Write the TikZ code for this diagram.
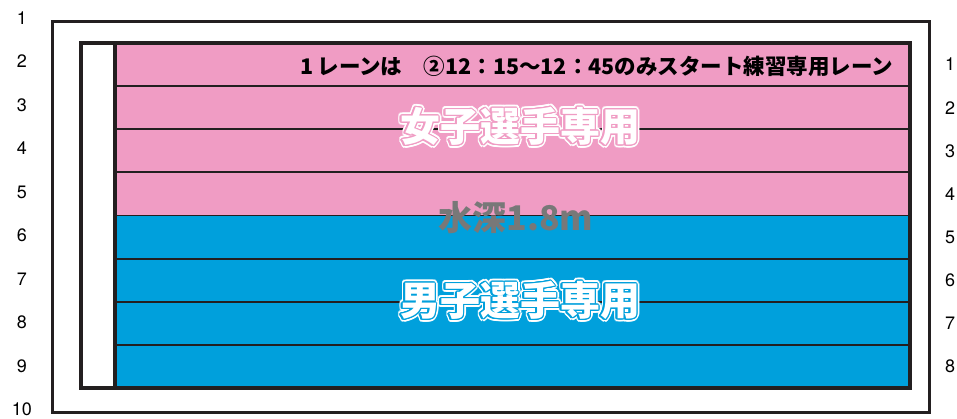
\documentclass[tikz,border=0pt]{standalone}
\usepackage{fontspec}
\newfontfamily\cjk{Noto Sans CJK JP}
\newfontfamily\numfont{TeX Gyre Heros}
\usepackage{contour}
\usetikzlibrary{positioning}

\definecolor{girlpink}{RGB}{240,156,196}
\definecolor{boyblue}{RGB}{0,160,220}
\definecolor{depthgray}{RGB}{120,120,120}
\definecolor{poolline}{RGB}{35,31,32}

% white title with a thin gap and a white rim
\newcommand{\lanetitle}[2]{%
  \rlap{\contourlength{3pt}\contour{white}{\textcolor{#1}{#2}}}%
  \contourlength{1.3pt}\contour{#1}{\textcolor{white}{#2}}}

\begin{document}
\begin{tikzpicture}[x=1pt,y=-1pt,
  lane/.style={draw=poolline,line width=1.8pt,minimum width=795pt,
    minimum height=43.125pt,inner sep=0pt,outer sep=0pt,anchor=north west},
  frame line/.style={draw=poolline,line width=3pt},
  num label/.style={font=\numfont\fontsize{18}{18}\selectfont},
  title label/.style={font=\cjk\bfseries\fontsize{40}{40}\selectfont},
  note label/.style={font=\cjk\bfseries\fontsize{21.5}{21.5}\selectfont}]
  \useasboundingbox (0,0) rectangle (957,419);

  % outer frame
  \draw[frame line] (52,22) rectangle (929,412);

  % lanes
  \foreach \i in {1,...,8} {
    \ifnum\i<5 \def\lanecol{girlpink}\else\def\lanecol{boyblue}\fi
    \node[lane,fill=\lanecol] (lane\i) at (115,{43+(\i-1)*43.125}) {};
    \node[num label,right=40pt of lane\i.east,anchor=center] (rnum\i) {\i};
  }

  % pool edge and start strip
  \draw[frame line,line width=3.2pt] (81,43) rectangle (910,388);
  \draw[frame line,line width=3.2pt] (115,43) -- (115,388);

  % grid numbers on the left
  \foreach \j in {1,...,10}
    \node[num label] (lnum\j) at (22,{18+(\j-1)*43.5}) {\j};

  % texts
  \node[note label] (note) at (597,66) {1\,レーンは　②12：15～12：45のみスタート練習専用レーン};
  \node[title label] (girls) at (520,128) {\lanetitle{girlpink}{女子選手専用}};
  \node[font=\cjk\bfseries\fontsize{34}{34}\selectfont,text=depthgray] (depth) at (516,218) {水深1.8m};
  \node[title label] (boys) at (520,302) {\lanetitle{boyblue}{男子選手専用}};
\end{tikzpicture}
\end{document}
